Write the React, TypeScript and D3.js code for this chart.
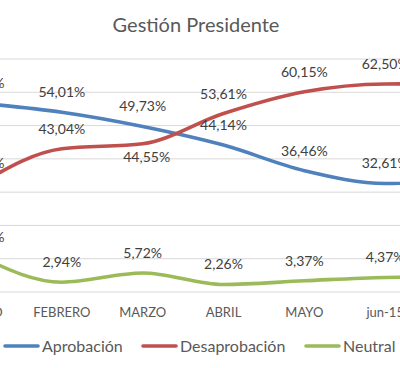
import * as d3 from 'd3';

const months = ['ENERO', 'FEBRERO', 'MARZO', 'ABRIL', 'MAYO', 'jun-15', 'jul-15'];
const aprobacion = [56.71, 54.01, 49.73, 44.14, 36.46, 32.61, 33.9];
const desaprobacion = [32.74, 43.04, 44.55, 53.61, 60.15, 62.5, 62.6];
const neutral = [10.52, 2.94, 5.72, 2.26, 3.37, 4.37, 4.6];
const yTicks = [0, 10, 20, 30, 40, 50, 60, 70];

const series = [
  { name: 'Aprobación', values: aprobacion, color: '#4f81bd' },
  { name: 'Desaprobación', values: desaprobacion, color: '#c0504d' },
  { name: 'Neutral', values: neutral, color: '#9bbb59' },
];

// labels that Excel placed under the point instead of above it
const labelsBelow = [['Desaprobación', 'MARZO']];

const W = 400;
const H = 368;
const font = 'Lato, "Open Sans", sans-serif';

const fmt = (v: number) => v.toFixed(2).replace('.', ',') + '%';

export default function App() {
  const x = d3.scalePoint<string>().domain(months).range([-19, 466]);
  const y = d3.scaleLinear().domain([0, 70]).range([292, 59]);

  const line = d3
    .line<number>()
    .x((_, i) => x(months[i]) as number)
    .y(d => y(d))
    .curve(d3.curveMonotoneX);

  const legendItems = [
    { lineX: 5, textX: 42 },
    { lineX: 143, textX: 180 },
    { lineX: 306, textX: 343 },
  ];

  return (
    <div style={{ position: 'absolute', left: 0, top: 0 }}>
      <svg width={W} height={H} style={{ display: 'block', background: '#fff' }}>
        <text x={196} y={32} textAnchor="middle" fontFamily={font} fontSize={20} fill="#595959">
          Gestión Presidente
        </text>

        {yTicks.map(t => (
          <line key={t} x1={0} x2={W} y1={y(t)} y2={y(t)} stroke="#d9d9d9" strokeWidth={1} />
        ))}

        {months.map(m => (
          <text
            key={m}
            x={x(m)}
            y={317}
            textAnchor="middle"
            fontFamily={font}
            fontSize={13}
            fill="#595959"
          >
            {m}
          </text>
        ))}

        {series.map(s => (
          <path
            key={s.name}
            d={line(s.values) || ''}
            fill="none"
            stroke={s.color}
            strokeWidth={3.6}
            strokeLinecap="round"
            strokeLinejoin="round"
          />
        ))}

        {series.map(s =>
          s.values.map((v, i) => {
            const below = labelsBelow.some(([n, m]) => n === s.name && m === months[i]);
            return (
              <text
                key={s.name + i}
                x={(x(months[i]) as number) + (below ? 4 : 0)}
                y={y(v) + (below ? 18 : -15)}
                textAnchor="middle"
                fontFamily={font}
                fontSize={14}
                fill="#404040"
              >
                {fmt(v)}
              </text>
            );
          })
        )}

        {series.map((s, i) => (
          <g key={s.name}>
            <line
              x1={legendItems[i].lineX}
              x2={legendItems[i].lineX + 33}
              y1={346}
              y2={346}
              stroke={s.color}
              strokeWidth={3.6}
              strokeLinecap="round"
            />
            <text x={legendItems[i].textX} y={352} fontFamily={font} fontSize={16} fill="#595959">
              {s.name}
            </text>
          </g>
        ))}
      </svg>
    </div>
  );
}
